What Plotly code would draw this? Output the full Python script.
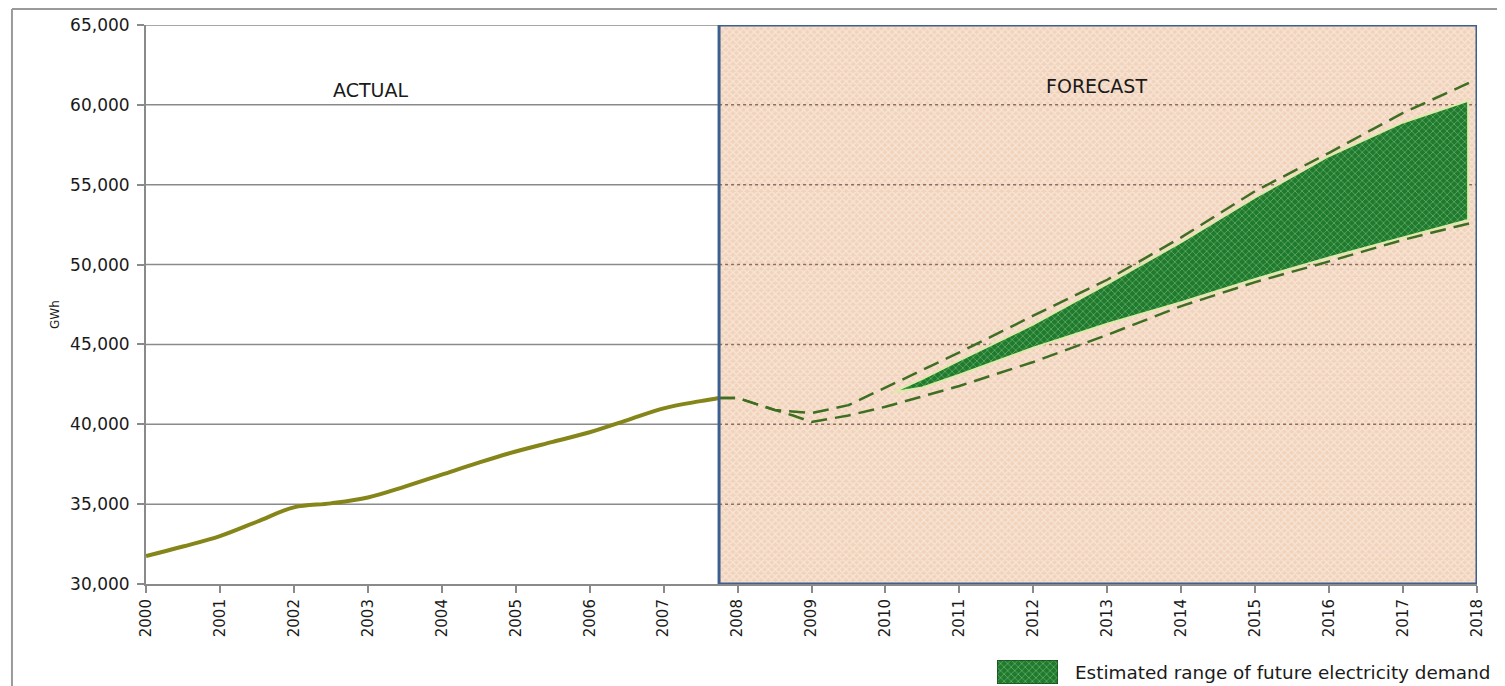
import plotly.graph_objects as go

# ---------------- data ----------------
actual_years = [2000, 2000.5, 2001, 2001.5, 2002, 2002.5, 2003, 2003.5, 2004, 2004.5,
                2005, 2005.5, 2006, 2006.5, 2007, 2007.5, 2007.75]
actual_gwh = [31750, 32350, 33000, 33900, 34800, 35050, 35420, 36100, 36850, 37600,
              38300, 38900, 39500, 40250, 41000, 41450, 41650]

high_years = [2007.75, 2008, 2008.5, 2009, 2009.5, 2010, 2011, 2012, 2013, 2014,
              2015, 2016, 2017, 2018]
high_gwh = [41650, 41650, 40900, 40700, 41200, 42300, 44500, 46800, 49050, 51700,
            54600, 57000, 59500, 61600]

low_years = [2007.75, 2008, 2008.5, 2008.75, 2009, 2009.5, 2010, 2011, 2012, 2013,
             2014, 2015, 2016, 2017, 2018]
low_gwh = [41650, 41650, 40900, 40550, 40150, 40550, 41100, 42400, 43900, 45600,
           47400, 48900, 50200, 51550, 52700]

range_years = [2010.1, 2010.5, 2011, 2012, 2013, 2014, 2015, 2016, 2017, 2017.88]
range_high = [42000, 42850, 44000, 46250, 48800, 51400, 54200, 56800, 58900, 60250]
range_low = [42000, 42300, 43100, 44800, 46300, 47650, 49100, 50450, 51700, 52800]

year_ticks = list(range(2000, 2019))
year_labels = [str(y) for y in year_ticks]
gwh_ticks = [30000, 35000, 40000, 45000, 50000, 55000, 60000, 65000]
gwh_labels = [f"{v:,}" for v in gwh_ticks]

legend_label = "Estimated range of future electricity demand"

forecast_start = 2007.75
x_min, x_max = 2000, 2018
y_min, y_max = 30000, 65000

FONT = "DejaVu Sans"
TXT = "#1a1a1a"
GREEN_PATTERN = dict(shape="x", bgcolor="#1F7A2E", fgcolor="#9FD89A",
                     size=5, solidity=0.3)

fig = go.Figure()

# forecast background (patterned)
fig.add_trace(go.Scatter(
    x=[forecast_start, x_max, x_max, forecast_start, forecast_start],
    y=[y_min, y_min, y_max, y_max, y_min],
    mode="lines", fill="toself", line=dict(width=0),
    fillcolor="#F1D3BC",
    fillpattern=dict(shape="x", bgcolor="#F1D3BC", fgcolor="#FFF7F0",
                     size=5, solidity=0.45),
    hoverinfo="skip", showlegend=False))

# dotted grid lines inside the forecast region
gx, gy = [], []
for v in gwh_ticks[1:-1]:
    gx += [forecast_start, x_max, None]
    gy += [v, v, None]
fig.add_trace(go.Scatter(x=gx, y=gy, mode="lines",
                         line=dict(color="#8E6E5E", width=1.5, dash="dot"),
                         hoverinfo="skip", showlegend=False))

# solid grid lines in the actual region
sx, sy = [], []
for v in gwh_ticks[1:]:
    sx += [x_min, forecast_start, None]
    sy += [v, v, None]
fig.add_trace(go.Scatter(x=sx, y=sy, mode="lines",
                         line=dict(color="#8A8A8A", width=1.5),
                         hoverinfo="skip", showlegend=False))

# estimated range fill
fig.add_trace(go.Scatter(
    x=range_years + range_years[::-1],
    y=range_high + range_low[::-1],
    mode="lines", fill="toself",
    line=dict(color="#DDEBA8", width=2),
    fillcolor="#1F7A2E", fillpattern=GREEN_PATTERN,
    name=legend_label, hoverinfo="skip", showlegend=False))

# dashed high / low forecast lines
fig.add_trace(go.Scatter(x=high_years, y=high_gwh, mode="lines",
                         line=dict(color="#3E6E22", width=2.5, dash="16px,8px"),
                         hoverinfo="skip", showlegend=False))
fig.add_trace(go.Scatter(x=low_years, y=low_gwh, mode="lines",
                         line=dict(color="#3E6E22", width=2.5, dash="16px,8px"),
                         hoverinfo="skip", showlegend=False))

# actual line
fig.add_trace(go.Scatter(x=actual_years, y=actual_gwh, mode="lines",
                         line=dict(color="#85851A", width=4, shape="spline"),
                         hoverinfo="skip", showlegend=False))

# legend key swatch (own small axes)
fig.add_trace(go.Scatter(
    x=[0, 1, 1, 0, 0], y=[0, 0, 1, 1, 0], xaxis="x2", yaxis="y2",
    mode="lines", fill="toself", line=dict(color="#1E4D1E", width=1.5),
    fillcolor="#1F7A2E", fillpattern=GREEN_PATTERN,
    hoverinfo="skip", showlegend=False))

MAIN_BOTTOM = 0.1517

shapes = [
    dict(type="rect", xref="x", yref="y", x0=forecast_start, x1=x_max,
         y0=y_min, y1=y_max, line=dict(color="#3D5F8F", width=3), layer="above"),
    dict(type="line", xref="paper", yref="paper", x0=-0.1007, x1=1.02,
         y0=1.0243, y1=1.0243, line=dict(color="#9A9A9A", width=2)),
    dict(type="line", xref="paper", yref="paper", x0=-0.1007, x1=-0.1007,
         y0=1.0243, y1=-0.02, line=dict(color="#9A9A9A", width=2)),
]

fig.update_layout(
    width=1489, height=686, autosize=False,
    margin=dict(l=138, r=20, t=17, b=0),
    paper_bgcolor="white", plot_bgcolor="white",
    font=dict(family=FONT, color=TXT),
    shapes=shapes,
    showlegend=False,
    annotations=[
        dict(text="ACTUAL", x=2003.03, y=60950, xref="x", yref="y",
             showarrow=False, font=dict(family=FONT, size=19, color=TXT)),
        dict(text="FORECAST", x=2012.86, y=61150, xref="x", yref="y",
             showarrow=False, font=dict(family=FONT, size=19, color=TXT)),
        dict(text="GWh", x=-0.0751, y=0.56, xref="paper", yref="paper",
             textangle=-90, showarrow=False,
             font=dict(family=FONT, size=12, color=TXT)),
        dict(text=legend_label, x=0.6965, y=0.0182, xref="paper", yref="paper",
             xanchor="left", yanchor="middle", showarrow=False,
             font=dict(family=FONT, size=18.4, color=TXT)),
    ],
    xaxis=dict(domain=[0, 1], anchor="y",
               range=[x_min, x_max], tickvals=year_ticks, ticktext=year_labels,
               tickangle=-90, ticks="outside", ticklen=7, tickcolor="#8A8A8A",
               tickwidth=1.5, showgrid=False, zeroline=False,
               showline=True, linecolor="#8A8A8A", linewidth=2,
               tickfont=dict(family=FONT, size=15, color=TXT)),
    yaxis=dict(domain=[MAIN_BOTTOM, 1], anchor="x",
               range=[y_min, y_max], tickvals=gwh_ticks, ticktext=gwh_labels,
               ticks="outside", ticklen=7, tickcolor="#8A8A8A", tickwidth=1.5,
               showgrid=False, zeroline=False, ticklabelstandoff=4,
               showline=True, linecolor="#8A8A8A", linewidth=2,
               tickfont=dict(family=FONT, size=17, color=TXT)),
    xaxis2=dict(domain=[0.6394, 0.6852], range=[0, 1], visible=False,
                anchor="y2", fixedrange=True),
    yaxis2=dict(domain=[0, 0.0364], range=[0, 1], visible=False,
                anchor="x2", fixedrange=True),
)

fig.write_html("out.html")
